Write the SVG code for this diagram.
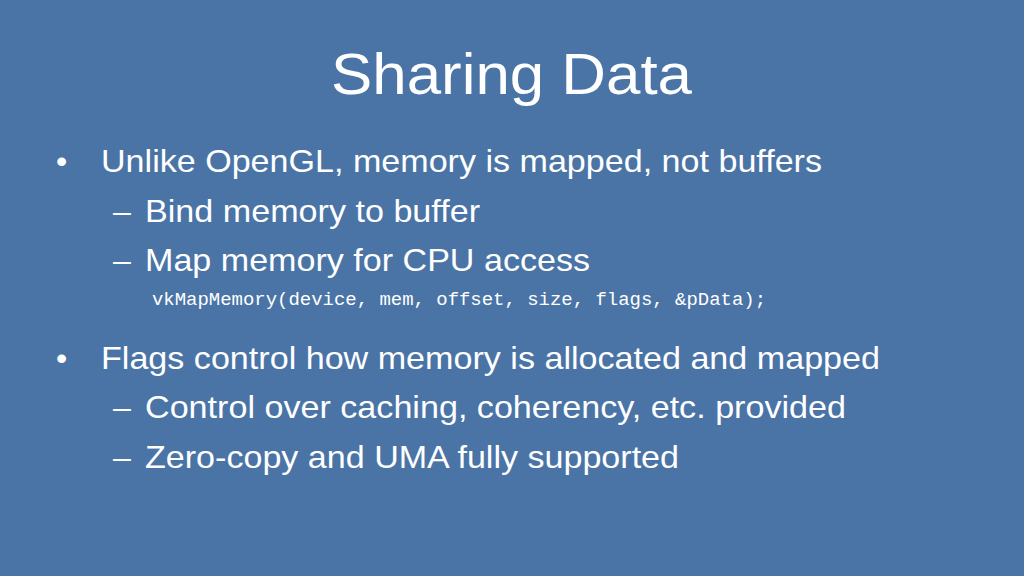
<svg xmlns="http://www.w3.org/2000/svg" width="1024" height="576" viewBox="0 0 1024 576">
<style>
.t{font-family:"Liberation Sans",Arial,sans-serif;fill:#fff}
.b{font-size:32px}
.c{font-family:"Liberation Mono","Courier New",monospace;font-size:18px;fill:#fff}
</style>
<rect width="1024" height="576" fill="#4A74A6"/>
<text class="t" x="331" y="94" font-size="58" textLength="361" lengthAdjust="spacingAndGlyphs">Sharing Data</text>
<text class="t b" x="56" y="172">•</text>
<text class="t b" x="101" y="172" textLength="721" lengthAdjust="spacingAndGlyphs">Unlike OpenGL, memory is mapped, not buffers</text>
<text class="t b" x="113" y="222">–</text>
<text class="t b" x="145" y="222" textLength="335" lengthAdjust="spacingAndGlyphs">Bind memory to buffer</text>
<text class="t b" x="113" y="271">–</text>
<text class="t b" x="145" y="271" textLength="445" lengthAdjust="spacingAndGlyphs">Map memory for CPU access</text>
<text class="c" x="152" y="305" textLength="614" lengthAdjust="spacingAndGlyphs">vkMapMemory(device, mem, offset, size, flags, &amp;pData);</text>
<text class="t b" x="56" y="369">•</text>
<text class="t b" x="101" y="369" textLength="779" lengthAdjust="spacingAndGlyphs">Flags control how memory is allocated and mapped</text>
<text class="t b" x="113" y="418">–</text>
<text class="t b" x="145" y="418" textLength="701" lengthAdjust="spacingAndGlyphs">Control over caching, coherency, etc. provided</text>
<text class="t b" x="113" y="468">–</text>
<text class="t b" x="145" y="468" textLength="534" lengthAdjust="spacingAndGlyphs">Zero-copy and UMA fully supported</text>
</svg>
